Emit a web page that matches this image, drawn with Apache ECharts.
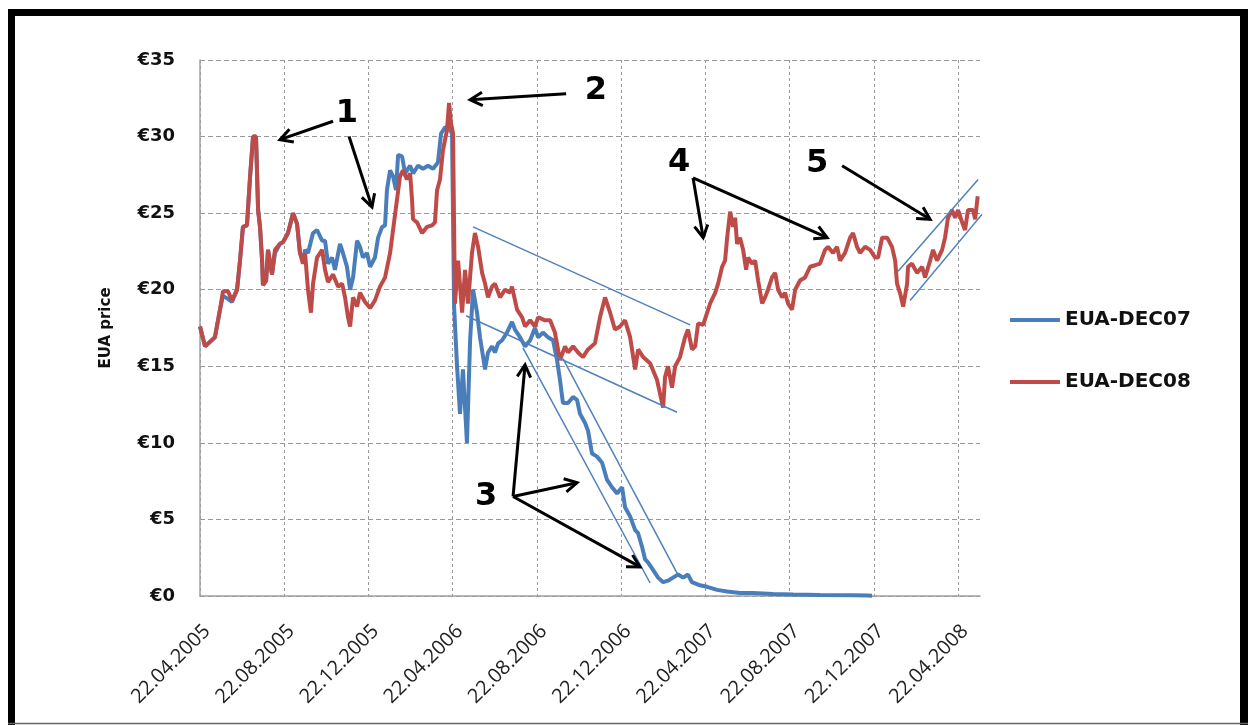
<!DOCTYPE html>
<html><head><meta charset="utf-8">
<script src="https://cdn.jsdelivr.net/npm/echarts@6/dist/echarts.min.js"></script>
<style>html,body{margin:0;padding:0;background:#fff}#c{width:1248px;height:725px}</style>
</head><body><div id="c"></div>
<script>
// x values are months since 22.04.2005
const xTickLabels = ['22.04.2005','22.08.2005','22.12.2005','22.04.2006','22.08.2006','22.12.2006','22.04.2007','22.08.2007','22.12.2007','22.04.2008'];
const seriesNames = ['EUA-DEC07','EUA-DEC08'];

const dec07 = [[0,17.6],[0.24,16.3],[0.71,16.9],[0.95,18.7],[1.09,19.6],[1.33,19.4],[1.52,19.2],[1.76,20.0],[1.90,21.9],[2.04,24.1],[2.23,24.2],[2.38,27.4],[2.52,30.0],[2.66,30.0],[2.76,25.2],[2.85,24.1],[2.95,21.9],[2.99,20.3],[3.14,20.6],[3.23,22.6],[3.42,21.0],[3.56,22.4],[3.80,23.0],[3.94,23.1],[4.18,23.7],[4.42,25.0],[4.61,24.3],[4.75,22.4],[4.89,21.9],[4.99,22.6],[5.13,22.4],[5.37,23.7],[5.56,23.9],[5.80,23.2],[5.94,23.2],[6.08,21.7],[6.27,22.1],[6.41,21.3],[6.65,23.0],[6.79,22.4],[6.98,21.5],[7.13,20.0],[7.27,20.8],[7.46,23.2],[7.60,22.8],[7.74,22.1],[7.93,22.4],[8.08,21.5],[8.31,22.1],[8.46,23.4],[8.65,24.1],[8.79,24.2],[8.88,26.5],[9.03,27.8],[9.17,27.4],[9.31,26.5],[9.41,28.8],[9.60,28.7],[9.74,27.6],[9.98,28.1],[10.12,27.6],[10.36,28.1],[10.59,27.9],[10.83,28.1],[11.07,27.9],[11.30,28.3],[11.45,30.2],[11.64,30.6],[11.83,30.6],[11.97,30.2],[12.07,18.9],[12.21,15.0],[12.35,11.9],[12.49,14.8],[12.68,10.0],[12.83,16.7],[12.97,20.0],[13.16,18.5],[13.30,16.9],[13.54,14.8],[13.68,15.9],[13.87,16.3],[14.01,15.9],[14.16,16.5],[14.35,16.7],[14.58,17.2],[14.82,17.9],[14.96,17.4],[15.20,16.9],[15.44,16.3],[15.68,16.7],[15.91,17.5],[16.06,16.9],[16.29,17.2],[16.53,16.9],[16.77,16.7],[16.96,15.4],[17.10,14.1],[17.24,12.6],[17.48,12.6],[17.72,13.0],[17.91,12.8],[18.05,11.9],[18.29,11.3],[18.43,10.8],[18.62,9.3],[18.86,9.1],[19.10,8.7],[19.33,7.6],[19.57,7.1],[19.81,6.7],[20.05,7.1],[20.19,5.8],[20.43,5.2],[20.67,4.3],[20.81,4.1],[21.00,3.2],[21.14,2.4],[21.28,2.2],[21.52,1.7],[21.76,1.2],[22.00,0.9],[22.23,1.0],[22.47,1.2],[22.71,1.4],[22.95,1.2],[23.18,1.4],[23.37,0.9],[23.75,0.7],[24.09,0.6],[24.56,0.4],[25.04,0.3],[25.65,0.2],[26.27,0.2],[27.22,0.13],[28.17,0.1],[29.45,0.07],[31.02,0.05],[31.69,0.03],[31.92,0.02]];

const dec08 = [[0,17.6],[0.24,16.3],[0.71,16.9],[0.95,18.7],[1.09,19.9],[1.33,19.9],[1.52,19.3],[1.76,20.0],[1.90,21.9],[2.04,24.1],[2.23,24.2],[2.38,27.4],[2.52,30.0],[2.66,30.0],[2.76,25.2],[2.85,24.1],[2.95,21.9],[2.99,20.3],[3.14,20.6],[3.23,22.6],[3.42,21.0],[3.56,22.6],[3.80,23.0],[3.94,23.1],[4.18,23.7],[4.42,25.0],[4.61,24.3],[4.75,22.4],[4.89,21.7],[4.99,22.4],[5.13,20.0],[5.27,18.5],[5.37,20.4],[5.56,22.1],[5.80,22.6],[5.94,21.3],[6.08,20.5],[6.32,21.0],[6.56,20.2],[6.75,20.4],[6.89,19.5],[7.03,18.2],[7.13,17.6],[7.27,19.5],[7.46,18.9],[7.60,19.8],[7.84,19.2],[8.08,18.8],[8.31,19.3],[8.55,20.2],[8.79,20.8],[9.03,22.4],[9.17,23.9],[9.36,25.9],[9.50,27.4],[9.64,27.8],[9.83,27.2],[9.98,27.6],[10.07,25.9],[10.12,24.6],[10.31,24.4],[10.55,23.7],[10.78,24.1],[11.02,24.2],[11.16,24.4],[11.26,26.5],[11.40,27.2],[11.54,29.1],[11.73,30.4],[11.83,32.2],[11.92,30.9],[12.02,30.2],[12.11,19.1],[12.26,21.9],[12.45,18.5],[12.59,21.3],[12.73,19.1],[12.92,22.4],[13.06,23.7],[13.21,22.8],[13.40,21.1],[13.54,20.4],[13.68,19.5],[13.87,20.2],[14.01,20.4],[14.25,19.5],[14.49,20.0],[14.73,19.8],[14.82,20.2],[15.06,18.7],[15.30,18.2],[15.44,17.6],[15.68,18.0],[15.91,17.6],[16.06,18.2],[16.39,18.0],[16.63,18.0],[16.86,17.2],[17.10,15.4],[17.34,16.3],[17.48,15.9],[17.72,16.3],[17.96,15.9],[18.19,15.6],[18.43,16.1],[18.76,16.5],[19.00,18.2],[19.24,19.5],[19.48,18.5],[19.71,17.4],[19.95,17.6],[20.19,18.0],[20.43,16.9],[20.67,14.8],[20.81,16.1],[21.05,15.6],[21.38,15.2],[21.71,14.1],[21.95,12.6],[22.00,12.3],[22.09,14.3],[22.23,15.0],[22.42,13.6],[22.57,15.0],[22.80,15.6],[23.04,16.9],[23.18,17.4],[23.37,16.1],[23.52,16.3],[23.66,17.8],[23.90,17.7],[24.09,18.5],[24.23,19.1],[24.47,19.8],[24.61,20.4],[24.80,21.5],[24.94,21.9],[25.04,23.4],[25.18,25.1],[25.32,24.1],[25.42,24.7],[25.51,23.0],[25.65,23.4],[25.80,22.6],[25.94,21.3],[26.03,22.1],[26.22,21.7],[26.37,21.9],[26.51,20.6],[26.70,19.1],[26.84,19.5],[26.98,20.0],[27.17,20.8],[27.32,21.1],[27.46,20.0],[27.65,19.5],[27.79,19.8],[27.93,19.1],[28.12,18.7],[28.27,20.0],[28.50,20.6],[28.74,20.8],[28.98,21.5],[29.22,21.6],[29.45,21.7],[29.69,22.6],[29.83,22.8],[30.07,22.4],[30.26,22.8],[30.40,21.9],[30.64,22.4],[30.88,23.4],[31.02,23.7],[31.21,22.8],[31.35,22.4],[31.59,22.8],[31.83,22.6],[32.07,22.1],[32.21,22.1],[32.40,23.4],[32.64,23.4],[32.87,22.8],[33.02,21.9],[33.11,20.4],[33.25,19.8],[33.40,18.9],[33.59,20.4],[33.63,21.5],[33.82,21.7],[34.06,21.1],[34.30,21.5],[34.44,20.8],[34.68,21.9],[34.82,22.6],[35.01,21.9],[35.25,22.6],[35.39,23.4],[35.53,24.7],[35.72,25.2],[35.87,24.7],[36.01,25.2],[36.20,24.4],[36.34,23.9],[36.48,25.2],[36.72,25.2],[36.82,24.6],[36.94,26.1]];

// thin trend channels [start, end] in data units
const trendLines = [
  [[12.97,24.1],[23.28,17.7]],
  [[12.64,18.3],[22.66,12.0]],
  [[15.34,16.2],[21.38,0.85]],
  [[17.24,15.5],[22.66,1.5]],
  [[33.16,21.2],[36.96,27.2]],
  [[33.73,19.3],[37.62,25.7]]
];
// annotation arrows [from, to] in data units
const arrows = [
  [[6.32,31.0],[3.80,29.8]],
  [[7.08,30.0],[8.17,25.4]],
  [[17.39,32.8],[12.83,32.4]],
  [[14.87,6.5],[15.44,15.1]],
  [[14.87,6.5],[17.91,7.4]],
  [[14.87,6.5],[20.90,1.9]],
  [[23.42,27.3],[23.90,23.4]],
  [[23.42,27.3],[29.79,23.4]],
  [[30.50,28.1],[34.68,24.6]]
];
const numberTexts = ['1','2','3','4','5'];
const numberPos = [[6.98,31.5],[18.81,33.0],[13.59,6.5],[22.76,28.3],[29.31,28.2]];

const chart = echarts.init(document.getElementById('c'));
const option = {
  animation: false,
  backgroundColor: '#fff',
  grid: [
    {left: 200, right: 268, top: 60, bottom: 129},
    {left: 200, right: 290, top: 60, bottom: 129}
  ],
  legend: {
    data: seriesNames, orient: 'vertical', left: 1005, top: 305,
    itemWidth: 50, itemHeight: 4, itemGap: 42, icon: 'rect',
    textStyle: {fontFamily: 'DejaVu Sans', fontWeight: 'bold', fontSize: 20, color: '#111'}
  },
  xAxis: [
    {type: 'value', gridIndex: 0, min: 0, max: 37.05, interval: 4,
     axisLine: {show: true, lineStyle: {color: '#a0a0a0', width: 1.5}},
     axisTick: {show: false}, splitLine: {show: false},
     axisLabel: {rotate: 45, margin: 25, align: 'right', verticalAlign: 'top', showMaxLabel: false,
       fontFamily: 'Open Sans', fontSize: 20, color: '#222',
       formatter: v => (v % 4 === 0 && v / 4 < xTickLabels.length) ? xTickLabels[v / 4] : ''}},
    {type: 'value', gridIndex: 1, min: 0, max: 36, interval: 4,
     axisLine: {show: false}, axisTick: {show: false}, axisLabel: {show: false},
     splitLine: {show: true, lineStyle: {type: [3, 3], color: '#999', width: 1}}}
  ],
  yAxis: [
    {type: 'value', gridIndex: 0, min: 0, max: 35, interval: 5,
     axisLine: {show: true, lineStyle: {color: '#a0a0a0', width: 1.5}},
     axisTick: {show: false},
     splitLine: {show: true, lineStyle: {type: [5, 3], color: '#999', width: 1}},
     axisLabel: {formatter: '€{value}', fontFamily: 'DejaVu Sans', fontWeight: 'bold', fontSize: 18, color: '#111', margin: 25},
     name: 'EUA price', nameLocation: 'middle', nameGap: 86,
     nameTextStyle: {fontFamily: 'DejaVu Sans', fontWeight: 'bold', fontSize: 15, color: '#111'}},
    {type: 'value', gridIndex: 1, min: 0, max: 35, show: false}
  ],
  series: [
    {name: seriesNames[0], type: 'line', data: dec07, symbol: 'none', z: 3,
     lineStyle: {width: 4, color: '#4A7EBB'}, itemStyle: {color: '#4A7EBB'}},
    {name: seriesNames[1], type: 'line', data: dec08, symbol: 'none', z: 4,
     lineStyle: {width: 4, color: '#BE4B48'}, itemStyle: {color: '#BE4B48'}}
  ].concat(trendLines.map(t => ({
    type: 'line', data: t, symbol: 'none', clip: false, silent: true, z: 5,
    lineStyle: {width: 1.5, color: '#4F81BD'}
  })))
};
chart.setOption(option);

function px(p) { return chart.convertToPixel({xAxisIndex: 0, yAxisIndex: 0}, p); }
const g = [
  {type: 'rect', shape: {x: 8, y: 9, width: 1240, height: 7}, style: {fill: '#000'}},
  {type: 'rect', shape: {x: 8, y: 9, width: 7, height: 716}, style: {fill: '#000'}},
  {type: 'rect', shape: {x: 1240, y: 9, width: 8, height: 716}, style: {fill: '#000'}},
  {type: 'line', shape: {x1: 8, y1: 723.5, x2: 1248, y2: 723.5}, style: {stroke: '#666', lineWidth: 1.5}}
];
arrows.forEach(a => {
  const p0 = px(a[0]), p1 = px(a[1]);
  g.push({type: 'line', z: 10, shape: {x1: p0[0], y1: p0[1], x2: p1[0], y2: p1[1]}, style: {stroke: '#000', lineWidth: 3}});
  const ang = Math.atan2(p1[1] - p0[1], p1[0] - p0[0]);
  const L = 14, s = 0.5;
  const l = [p1[0] + L * Math.cos(ang + Math.PI - s), p1[1] + L * Math.sin(ang + Math.PI - s)];
  const r = [p1[0] + L * Math.cos(ang + Math.PI + s), p1[1] + L * Math.sin(ang + Math.PI + s)];
  g.push({type: 'polyline', z: 10, shape: {points: [l, p1, r]}, style: {stroke: '#000', lineWidth: 3, fill: null, lineJoin: 'miter'}});
});
numberTexts.forEach((t, i) => {
  const p = px(numberPos[i]);
  g.push({type: 'text', z: 10, x: p[0], y: p[1], style: {text: t, font: 'bold 32px "DejaVu Sans"', fill: '#000', align: 'center', verticalAlign: 'middle'}});
});
chart.setOption({graphic: g});
</script>
</body></html>
